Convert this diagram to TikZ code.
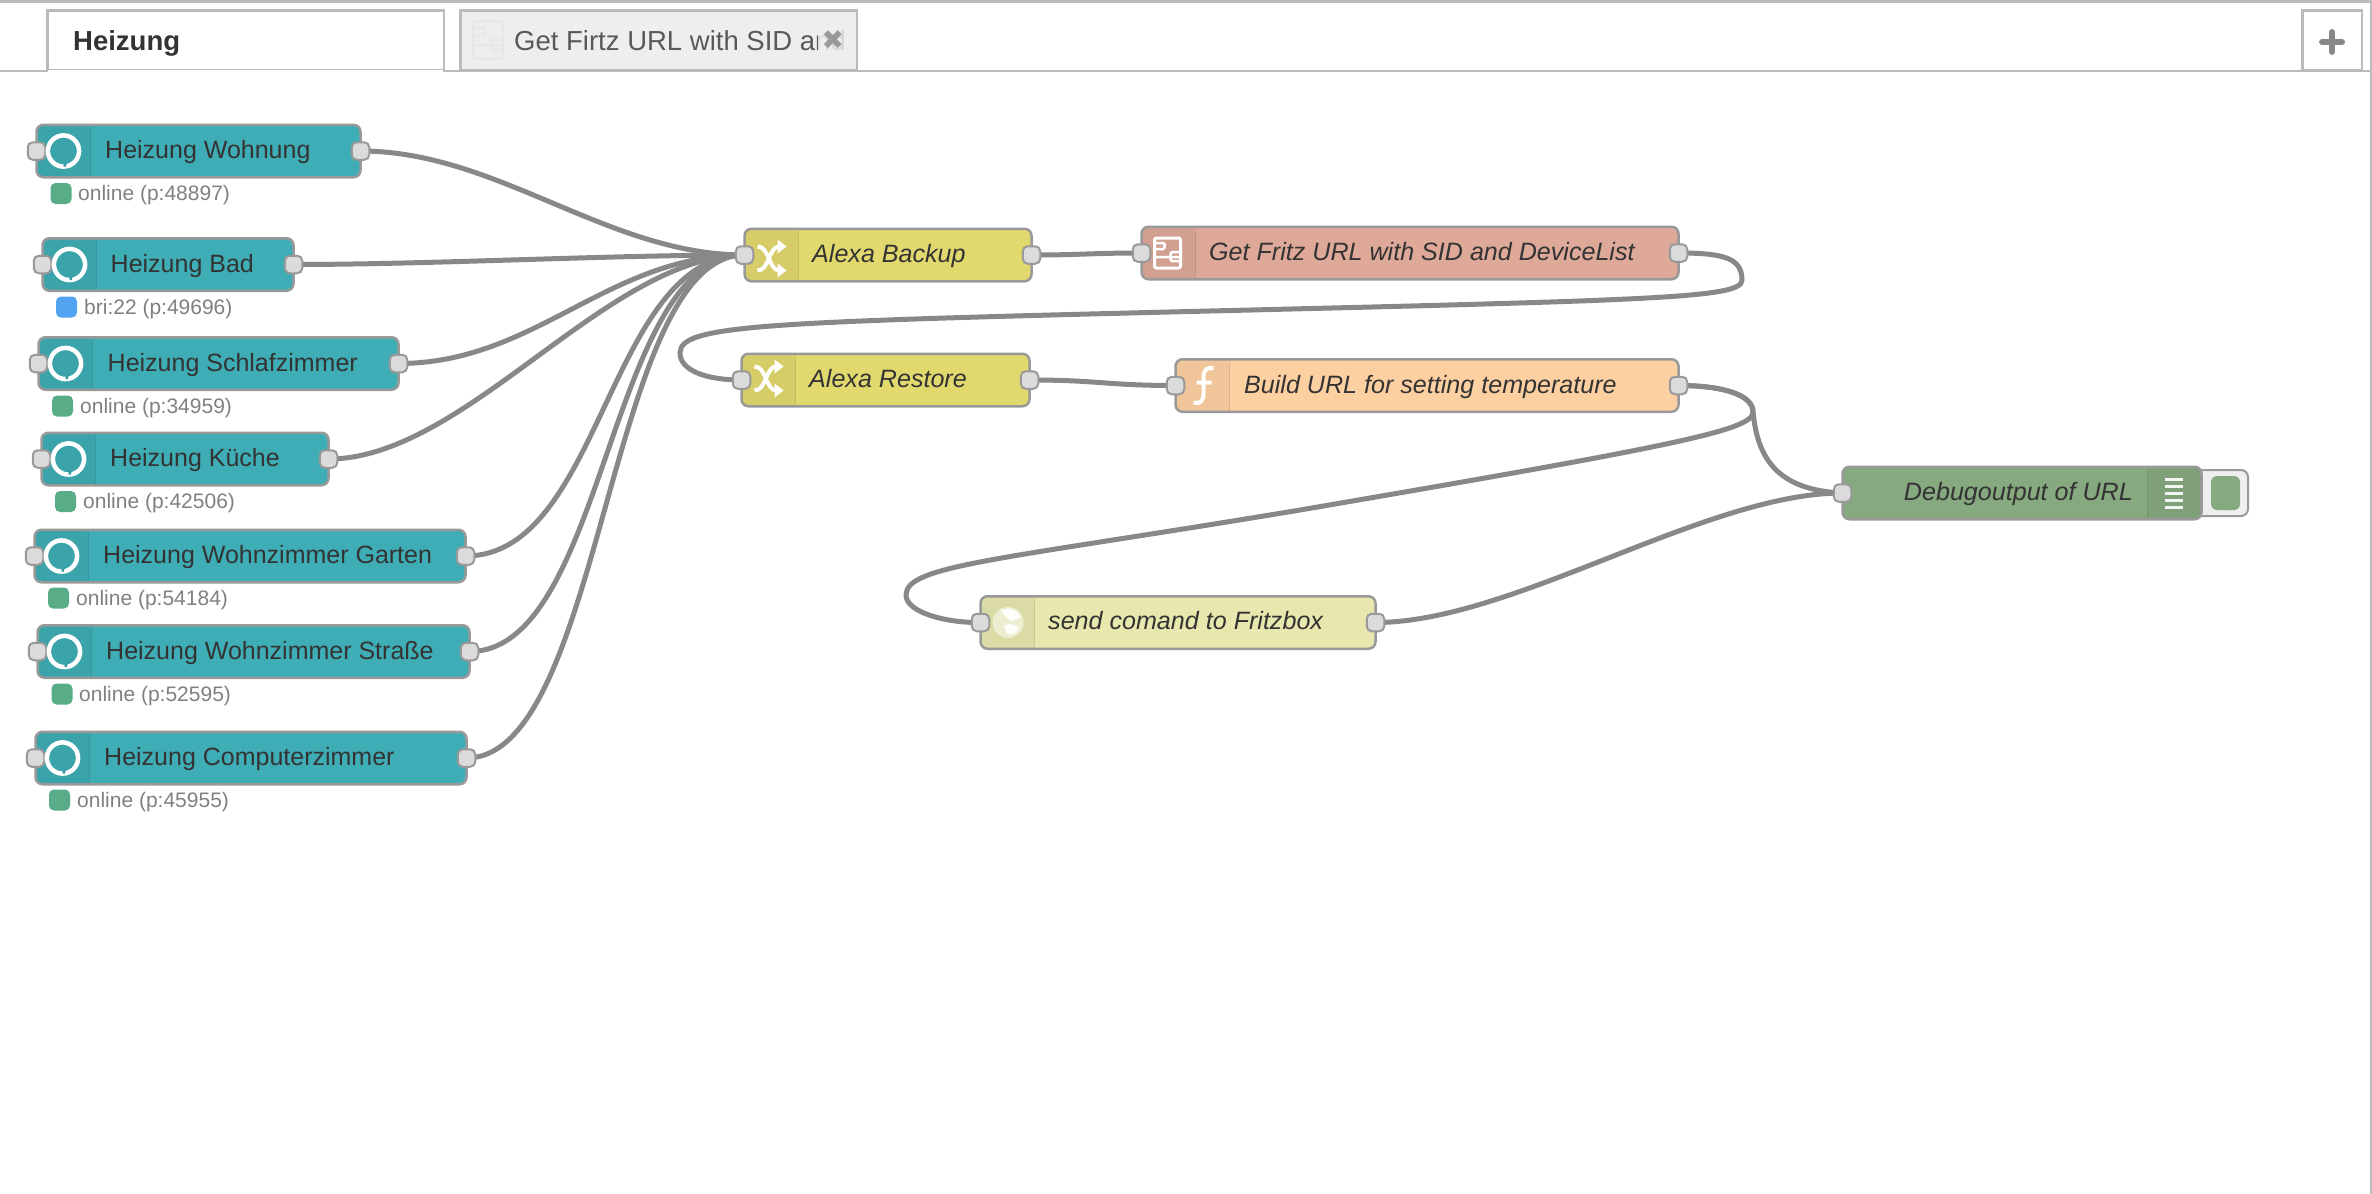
\documentclass[tikz,border=0pt]{standalone}
\usepackage{fontspec}
\setmainfont{Liberation Sans}
\newfontfamily\dejavu{DejaVu Sans}
\usetikzlibrary{positioning,backgrounds}
\definecolor{teal}{HTML}{3FADB5}
\definecolor{alexa}{HTML}{E2D96E}
\definecolor{fritz}{HTML}{DEA999}
\definecolor{func}{HTML}{FDD0A2}
\definecolor{http}{HTML}{E7E7AE}
\definecolor{debug}{HTML}{87A980}
\definecolor{online}{HTML}{58AC87}
\definecolor{bri}{HTML}{53A3F3}
\definecolor{edge}{HTML}{999999}
\definecolor{frame}{HTML}{BBBBBB}
\definecolor{wirecol}{HTML}{888888}

\begin{document}
\begin{tikzpicture}[x=1pt, y=-1pt,
    main/.style = {draw=edge, line width=2.5pt, rounded corners=7pt, minimum height=52.5pt, inner sep=0pt, outer sep=0pt,
        path picture={\fill[black, opacity=.05] (path picture bounding box.north west) rectangle ++(54pt,-55pt);
        \draw[black, opacity=.1, line width=1.5pt] ([xshift=54pt]path picture bounding box.north west) -- ([xshift=54pt]path picture bounding box.south west);}},
    mainright/.style = {draw=edge, line width=2.5pt, rounded corners=7pt, minimum height=52.5pt, inner sep=0pt, outer sep=0pt,
        path picture={\fill[black, opacity=.05] (path picture bounding box.north east) rectangle ++(-54pt,-55pt);
        \draw[black, opacity=.1, line width=1.5pt] ([xshift=-54pt]path picture bounding box.north east) -- ([xshift=-54pt]path picture bounding box.south east);}},
    port/.style = {draw=edge, fill=black!14, line width=2pt, rounded corners=5pt, minimum size=17.5pt, inner sep=0pt},
    nodetext/.style = {anchor=base west, inner sep=0pt, text=black!80, font=\fontsize{25}{30}\selectfont},
    calltext/.style = {nodetext, font=\fontsize{25.1}{30}\selectfont\itshape},
    statustext/.style = {anchor=base west, inner sep=0pt, text=black!50, font=\fontsize{21}{25}\selectfont},
    statusdot/.style = {rounded corners=5pt, minimum size=21pt, inner sep=0pt},
    wire/.style = {draw=wirecol, line width=5pt},
    tabbox/.style = {draw=frame, line width=2.5pt, minimum height=59.5pt, inner sep=0pt},
    alexaring/.pic = {\draw[white, line width=4.5pt] (0,0) circle (15.6);
        \draw[teal!90!black, line width=2.5pt] (2,12) -- (1,15.5);},
    shuffleicon/.pic = {\draw[white, line width=4pt] (-14,-12) .. controls (-2,-12) and (-3,12) .. (8,12) (-14,12) .. controls (-2,12) and (-3,-12) .. (8,-12);
        \fill[white] (6,-19) -- (15,-12) -- (6,-5) -- cycle (6,5) -- (15,12) -- (6,19) -- cycle;},
    subflowicon/.pic = {\draw[pic actions, line width=3pt, rounded corners=2pt] (-13,-15) rectangle (13,15);
        \draw[pic actions, line width=2.5pt, rounded corners=1.5pt] (-13,-10) -- (-3,-10) -- (-3,-4) -- (-13,-4) (-13,4) -- (13,4) (13,-1) -- (3,-1) -- (3,8) -- (13,8);},
    functionicon/.pic = {\draw[white, line width=4pt] (10,-17) .. controls (4,-19) and (0,-16) .. (0,-8) -- (0,8) .. controls (0,16) and (-4,19) .. (-10,17) (-7,-3) -- (8,-3);},
    globeicon/.pic = {\fill[white, opacity=.5] (0,0) circle (15.5);
        \fill[white, opacity=.9] (-7,-12) .. controls (-1,-15) and (8,-14) .. (13,-6) .. controls (9,-3) and (5,0) .. (1,-3) .. controls (-2,-6) and (-5,-8) .. (-7,-12) (-4,3) .. controls (2,0) and (9,2) .. (11,6) .. controls (8,12) and (3,13) .. (-1,11) -- cycle;},
    debugicon/.pic = {\foreach \bar in {-14,-7,0,7,14} {\fill[white, opacity=.9] (-9,\bar-1.5) rectangle (9,\bar+1.5);}}]
    \useasboundingbox (0,0) rectangle (2372,1194);
    \draw[frame, line width=3pt] (0,1) -- (2372,1);
    \draw[frame, line width=2.5pt] (2371,0) -- (2371,1194);
    \draw[frame, line width=2.5pt] (0,71) -- (2372,71);
    \node[tabbox, fill=white, minimum width=396.5pt] (tabHeizung) at (245.5,40) {};
    \draw[white, line width=3pt] ([xshift=2pt]tabHeizung.south west) -- ([xshift=-2pt]tabHeizung.south east);
    \node[nodetext, font=\fontsize{27.5}{30}\selectfont\bfseries] (tabHeizungText) at (73,50) {Heizung};
    \node[tabbox, fill=black!6.5, minimum width=396.5pt] (tabFritz) at (658.5,40) {};
    \pic[draw=black!9, xscale=1.15, yscale=1.25] at (488,40) {subflowicon};
    \node[nodetext, text=black!65, font=\fontsize{27.5}{30}\selectfont] (tabFritzText) at (514,50) {Get Firtz URL with SID and};
    \fill[black!6.5, opacity=.85] (818,12) rectangle (855,68);
    \node[text=black!40, inner sep=0pt, font=\fontsize{27}{29}\dejavu] (tabClose) at (833,40) {✖};
    \node[tabbox, fill=white, minimum width=59.5pt] (tabAdd) at (2332,40) {};
    \draw[wirecol, line width=6pt, line cap=round] (2322,42) -- (2342,42) (2332,32) -- (2332,52);

    \node[main, fill=teal, minimum width=324pt] (wohnung) at (198.5,151) {};
    \node[port] (wohnungIn) at (wohnung.west) {};
    \node[port] (wohnungOut) at (wohnung.east) {};
    \pic at ([xshift=27pt]wohnung.west) {alexaring};
    \node[nodetext] (wohnungText) at (105,158.5) {Heizung Wohnung};
    \node[statusdot, fill=online] (wohnungDot) at (61,193.5) {};
    \node[statustext] (wohnungStatus) at (78,200.5) {online (p:48897)};

    \node[main, fill=teal, minimum width=251pt] (bad) at (168,264.5) {};
    \node[port] (badIn) at (bad.west) {};
    \node[port] (badOut) at (bad.east) {};
    \pic at ([xshift=27pt]bad.west) {alexaring};
    \node[nodetext] (badText) at (110.5,272) {Heizung Bad};
    \node[statusdot, fill=bri] (badDot) at (66.5,307) {};
    \node[statustext] (badStatus) at (84,314) {bri:22 (p:49696)};

    \node[main, fill=teal, minimum width=360pt] (schlaf) at (218.5,363.5) {};
    \node[port] (schlafIn) at (schlaf.west) {};
    \node[port] (schlafOut) at (schlaf.east) {};
    \pic at ([xshift=27pt]schlaf.west) {alexaring};
    \node[nodetext] (schlafText) at (107.5,371) {Heizung Schlafzimmer};
    \node[statusdot, fill=online] (schlafDot) at (62.5,406) {};
    \node[statustext] (schlafStatus) at (80,413) {online (p:34959)};

    \node[main, fill=teal, minimum width=287pt] (kueche) at (185,459) {};
    \node[port] (kuecheIn) at (kueche.west) {};
    \node[port] (kuecheOut) at (kueche.east) {};
    \pic at ([xshift=27pt]kueche.west) {alexaring};
    \node[nodetext] (kuecheText) at (110,466.5) {Heizung Küche};
    \node[statusdot, fill=online] (kuecheDot) at (65.5,501.5) {};
    \node[statustext] (kuecheStatus) at (83,508.5) {online (p:42506)};

    \node[main, fill=teal, minimum width=431pt] (garten) at (250,556) {};
    \node[port] (gartenIn) at (garten.west) {};
    \node[port] (gartenOut) at (garten.east) {};
    \pic at ([xshift=27pt]garten.west) {alexaring};
    \node[nodetext] (gartenText) at (103,563.5) {Heizung Wohnzimmer Garten};
    \node[statusdot, fill=online] (gartenDot) at (58.5,598) {};
    \node[statustext] (gartenStatus) at (76,605) {online (p:54184)};

    \node[main, fill=teal, minimum width=432pt] (strasse) at (253.5,651.5) {};
    \node[port] (strasseIn) at (strasse.west) {};
    \node[port] (strasseOut) at (strasse.east) {};
    \pic at ([xshift=27pt]strasse.west) {alexaring};
    \node[nodetext] (strasseText) at (106,659) {Heizung Wohnzimmer Straße};
    \node[statusdot, fill=online] (strasseDot) at (62,694) {};
    \node[statustext] (strasseStatus) at (79,701) {online (p:52595)};

    \node[main, fill=teal, minimum width=431pt] (computer) at (251,758) {};
    \node[port] (computerIn) at (computer.west) {};
    \node[port] (computerOut) at (computer.east) {};
    \pic at ([xshift=27pt]computer.west) {alexaring};
    \node[nodetext] (computerText) at (104,765.5) {Heizung Computerzimmer};
    \node[statusdot, fill=online] (computerDot) at (59.5,800) {};
    \node[statustext] (computerStatus) at (77,807) {online (p:45955)};

    \node[main, fill=alexa, minimum width=287pt] (backup) at (888,255) {};
    \node[port] (backupIn) at (backup.west) {};
    \node[port] (backupOut) at (backup.east) {};
    \pic at ([xshift=27pt,yshift=-3.5pt]backup.west) {shuffleicon};
    \node[calltext] (backupText) at (812,262.5) {Alexa Backup};

    \node[main, fill=fritz, minimum width=537pt] (fritz) at (1410,253) {};
    \node[port] (fritzIn) at (fritz.west) {};
    \node[port] (fritzOut) at (fritz.east) {};
    \pic[draw=white] at ([xshift=26pt]fritz.west) {subflowicon};
    \node[calltext] (fritzText) at (1209,260) {Get Fritz URL with SID and DeviceList};

    \node[main, fill=alexa, minimum width=288pt] (restore) at (885.5,380) {};
    \node[port] (restoreIn) at (restore.west) {};
    \node[port] (restoreOut) at (restore.east) {};
    \pic at ([xshift=27pt,yshift=1.5pt]restore.west) {shuffleicon};
    \node[calltext] (restoreText) at (809,387) {Alexa Restore};

    \node[main, fill=func, minimum width=503pt] (build) at (1427,385.5) {};
    \node[port] (buildIn) at (build.west) {};
    \node[port] (buildOut) at (build.east) {};
    \pic at ([xshift=28pt]build.west) {functionicon};
    \node[calltext] (buildText) at (1244,393) {Build URL for setting temperature};

    \node[main, fill=http, minimum width=395pt] (send) at (1178,622.5) {};
    \node[port] (sendIn) at (send.west) {};
    \node[port] (sendOut) at (send.east) {};
    \pic at ([xshift=27.5pt]send.west) {globeicon};
    \node[calltext] (sendText) at (1048,629.5) {send comand to Fritzbox};

    \node[draw=edge, fill=black!6.5, line width=2pt, rounded corners=7pt, minimum width=58pt, minimum height=46pt, inner sep=0pt] (button) at (2219,493) {};
    \node[fill=debug, rounded corners=6pt, minimum width=29pt, minimum height=34pt, inner sep=0pt] (buttonFace) at (2225.5,493) {};
    \node[mainright, fill=debug, minimum width=359pt] (debugout) at (2022,493) {};
    \node[port] (debugoutIn) at (debugout.west) {};
    \pic at ([xshift=-27.5pt]debugout.east) {debugicon};
    \node[calltext, anchor=base east] (debugoutText) at (2133,500.5) {Debugoutput of URL};

    \begin{scope}[on background layer]
    \foreach \src in {wohnungOut,badOut,schlafOut,kuecheOut,gartenOut,strasseOut,computerOut}
        \draw[wire] (\src.center) .. controls +(137,0) and +(-137,0) .. (backupIn.center);
    \draw[wire] (backupOut.center) .. controls +(50,0) and +(-50,0) .. (fritzIn.center);
    \draw[wire] (fritzOut.center) .. controls +(45,0) and (1742,258) .. (1742,280) .. controls (1742,298) and (1660,300) .. (1210,311) .. controls (760,322) and (680,325) .. (680,353) .. controls (680,370) and (705,380) .. (restoreIn.center);
    \draw[wire] (restoreOut.center) .. controls +(70,0) and +(-70,0) .. (buildIn.center);
    \draw[wire] (buildOut.center) .. controls +(45,0) and (1753,395) .. (1753,412) .. controls (1757,450) and (1770,490) .. (debugoutIn.center);
    \draw[wire] (buildOut.center) .. controls +(45,0) and (1753,395) .. (1753,412) .. controls (1753,430) and (1680,445) .. (1300,510) .. controls (1000,560) and (906,565) .. (906,595) .. controls (906,612) and (945,623) .. (sendIn.center);
    \draw[wire] (sendOut.center) .. controls +(137,0) and +(-137,0) .. (debugoutIn.center);
    \end{scope}
\end{tikzpicture}
\end{document}
